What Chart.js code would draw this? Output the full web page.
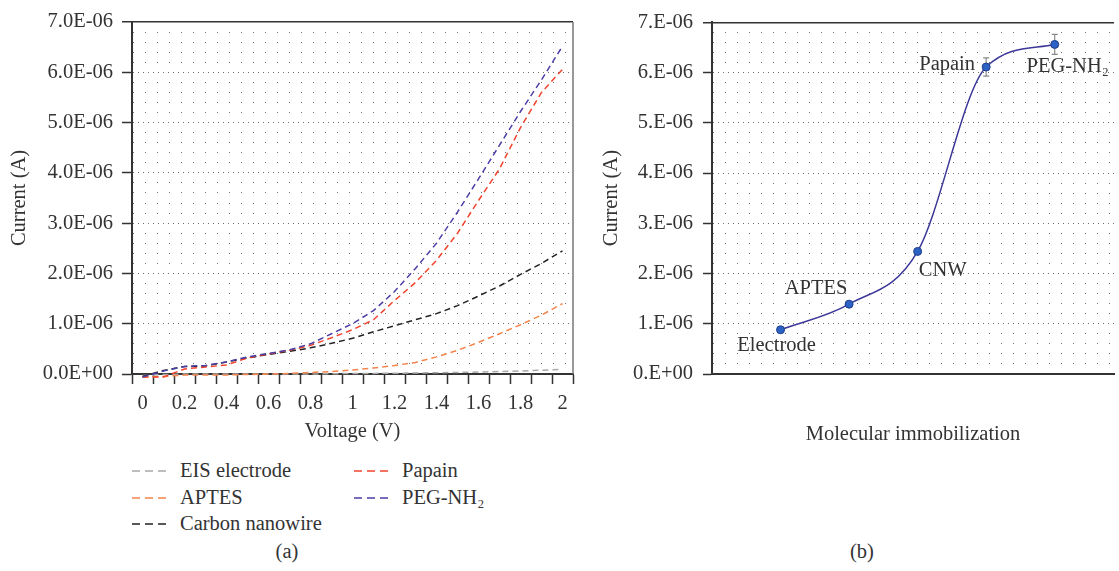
<!DOCTYPE html>
<html>
<head>
<meta charset="utf-8">
<script src="https://cdn.jsdelivr.net/npm/chart.js@4.4.1/dist/chart.umd.min.js"></script>
<style>
  html, body { margin: 0; padding: 0; background: #fff; overflow: hidden; }
  body { width: 1119px; height: 571px; position: relative; font-family: 'Liberation Serif', serif; color: #333; }
  #ivBox { position: absolute; left: 0; top: 0; width: 580px; height: 444px; }
  #immBox { position: absolute; left: 590px; top: 0; width: 529px; height: 447px; }
  .leg { position: absolute; font-size: 20.5px; line-height: 24px; white-space: nowrap; }
  .leg svg { position: absolute; left: -48px; top: 11px; }
  .caption { position: absolute; top: 539px; width: 100px; text-align: center; font-size: 20.5px; line-height: 24px; }
</style>
</head>
<body>
<div id="ivBox"><canvas id="ivChart"></canvas></div>
<div id="immBox"><canvas id="immChart"></canvas></div>
<div id="legend"></div>
<div class="caption" style="left:237px">(a)</div>
<div class="caption" style="left:812px">(b)</div>
<script>
// (a) I-V curves, current in units of 1E-06 A
const voltageLabels = ['0', '0.1', '0.2', '0.3', '0.4', '0.5', '0.6', '0.7', '0.8', '0.9', '1',
                       '1.1', '1.2', '1.3', '1.4', '1.5', '1.6', '1.7', '1.8', '1.9', '2'];
const eisCurrent    = [-0.03, -0.01, 0, 0, 0, 0, 0, 0, 0, 0.005, 0.01, 0.012, 0.015, 0.02, 0.025, 0.03, 0.04, 0.05, 0.06, 0.075, 0.09];
const aptesCurrent  = [-0.06, -0.05, -0.02, -0.02, -0.02, -0.01, 0, 0.01, 0.03, 0.05, 0.08, 0.12, 0.17, 0.23, 0.34, 0.47, 0.63, 0.80, 0.98, 1.17, 1.40];
const carbonCurrent = [-0.05, 0.07, 0.15, 0.16, 0.24, 0.32, 0.39, 0.45, 0.52, 0.61, 0.71, 0.84, 0.96, 1.08, 1.20, 1.36, 1.55, 1.75, 1.98, 2.20, 2.45];
const papainCurrent = [-0.06, -0.06, 0.10, 0.14, 0.18, 0.32, 0.40, 0.47, 0.57, 0.72, 0.88, 1.08, 1.46, 1.82, 2.26, 2.80, 3.45, 4.08, 4.90, 5.60, 6.06];
const pegCurrent    = [-0.06, 0.06, 0.15, 0.17, 0.24, 0.34, 0.41, 0.48, 0.60, 0.80, 1.00, 1.26, 1.64, 2.10, 2.60, 3.22, 3.88, 4.55, 5.22, 5.85, 6.52];

const seriesNames  = ['EIS electrode', 'APTES', 'Carbon nanowire', 'Papain', 'PEG-NH₂'];
const seriesColors = ['#a9a9a9', '#f3844a', '#222222', '#f0442c', '#4a3fa6'];

// (b) current after each immobilization step
const immCategories = ['Electrode', 'APTES', 'CNW', 'Papain', 'PEG-NH₂'];
const immCurrent    = [0.88, 1.39, 2.44, 6.11, 6.56];
const immError      = [0, 0, 0, 0.18, 0.2];

// placement of legend entries and point labels
const legendSlots  = [[180, 458], [180, 485], [180, 511], [402, 458], [402, 485]];
const labelOffsets = [[-4, 16], [-33, -16], [25, 19], [-39, -2], [13, 22]];

Chart.defaults.font.family = '"Liberation Serif", serif';
Chart.defaults.font.size = 20.5;
Chart.defaults.color = '#333';

const isMajor = v => Math.abs(v - Math.round(v)) < 1e-6;
const isTop = c => c.tick && c.tick.value > 6.99;

// shared current axis with dotted lattice grid
function currentAxis(format, tickLen, pad, titlePad, width) {
    return {
        min: 0,
        max: 7,
        ticks: {
            stepSize: 0.2,
            autoSkip: false,
            padding: pad,
            callback: v => isMajor(v) ? format(Math.round(v)) : ''
        },
        grid: {
            tickLength: tickLen,
            tickWidth: 1.5,
            tickColor: c => c.tick && isMajor(c.tick.value) ? '#333' : 'rgba(0,0,0,0)',
            color: c => isTop(c) ? '#333' : '#6e6e6e',
            lineWidth: c => isTop(c) ? 1.5 : 1
        },
        border: {
            color: '#333',
            width: 2,
            dash: c => !c.tick || isTop(c) ? [] : (isMajor(c.tick.value) ? [1, 4] : [1, 11])
        },
        title: { display: true, text: 'Current (A)', padding: { top: titlePad, bottom: 0 } },
        afterFit: s => { s.width = width; }
    };
}

// thin frame on the right side of chart (a)
const rightFrame = {
    id: 'rightFrame',
    afterDraw(chart) {
        const { ctx, chartArea } = chart;
        ctx.save();
        ctx.strokeStyle = '#777';
        ctx.lineWidth = 1.5;
        ctx.beginPath();
        ctx.moveTo(chartArea.right, chartArea.top);
        ctx.lineTo(chartArea.right, chartArea.bottom);
        ctx.stroke();
        ctx.restore();
    }
};

const ivSeries = [eisCurrent, aptesCurrent, carbonCurrent, papainCurrent, pegCurrent];

new Chart(document.getElementById('ivChart'), {
    type: 'line',
    data: {
        labels: voltageLabels,
        datasets: ivSeries.map((values, i) => ({
            label: seriesNames[i],
            data: values,
            borderColor: seriesColors[i],
            borderWidth: 1.5,
            borderDash: [6, 4],
            pointRadius: 0,
            tension: 0,
            fill: false,
            clip: 8
        })).reverse()
    },
    options: {
        responsive: true,
        maintainAspectRatio: false,
        animation: false,
        layout: { padding: { top: 22, right: 7, left: 0, bottom: 0 } },
        plugins: { legend: { display: false }, tooltip: { enabled: false } },
        scales: {
            x: {
                type: 'category',
                offset: true,
                grid: { offset: true, drawOnChartArea: false, tickLength: 10, tickWidth: 1.5, tickColor: '#333' },
                border: { color: '#333', width: 2 },
                ticks: {
                    autoSkip: false,
                    maxRotation: 0,
                    padding: 7,
                    callback: function (v, i) { return i % 2 === 0 ? this.getLabelForValue(v) : ''; }
                },
                title: { display: true, text: 'Voltage (V)', padding: 0 },
                afterFit: s => { s.height = 70; }
            },
            y: currentAxis(n => n === 0 ? '0.0E+00' : n + '.0E-06', 10, 9, 7.7, 132)
        }
    },
    plugins: [rightFrame]
});

// error bars under the points, step names over them
const immDecor = {
    id: 'immDecor',
    beforeDatasetsDraw(chart) {
        const { ctx, scales: { x, y } } = chart;
        ctx.save();
        ctx.strokeStyle = '#8a8a8a';
        ctx.lineWidth = 1.2;
        immCurrent.forEach((v, i) => {
            if (!immError[i]) return;
            const px = x.getPixelForValue(i + 1);
            const hi = y.getPixelForValue(v + immError[i]);
            const lo = y.getPixelForValue(v - immError[i]);
            ctx.beginPath();
            ctx.moveTo(px, hi); ctx.lineTo(px, lo);
            ctx.moveTo(px - 3, hi); ctx.lineTo(px + 3, hi);
            ctx.moveTo(px - 3, lo); ctx.lineTo(px + 3, lo);
            ctx.stroke();
        });
        ctx.restore();
    },
    afterDatasetsDraw(chart) {
        const { ctx, scales: { x, y } } = chart;
        ctx.save();
        ctx.font = '20.5px "Liberation Serif", serif';
        ctx.fillStyle = '#333';
        ctx.textAlign = 'center';
        ctx.textBaseline = 'middle';
        immCategories.forEach((name, i) => {
            const px = x.getPixelForValue(i + 1);
            const py = y.getPixelForValue(immCurrent[i]);
            ctx.fillText(name, px + labelOffsets[i][0], py + labelOffsets[i][1]);
        });
        ctx.restore();
    }
};

new Chart(document.getElementById('immChart'), {
    type: 'line',
    data: {
        datasets: [{
            label: 'Current',
            data: immCategories.map((c, i) => ({ x: i + 1, y: immCurrent[i] })),
            borderColor: '#3b3897',
            borderWidth: 1.5,
            cubicInterpolationMode: 'monotone',
            pointRadius: 4,
            pointBackgroundColor: '#2c62c4',
            pointBorderColor: '#1d3c8c',
            pointBorderWidth: 1
        }]
    },
    options: {
        responsive: true,
        maintainAspectRatio: false,
        animation: false,
        layout: { padding: { top: 22, right: 0, left: 0, bottom: 0 } },
        plugins: { legend: { display: false }, tooltip: { enabled: false } },
        scales: {
            x: {
                type: 'linear',
                min: 0,
                max: 5.865,
                ticks: { display: false },
                grid: { display: false },
                border: { color: '#333', width: 2 },
                title: { display: true, text: 'Molecular immobilization', padding: 0 },
                afterFit: s => { s.height = 73; }
            },
            y: currentAxis(n => n === 0 ? '0.E+00' : n + '.E-06', 9, 10, 9.7, 122)
        }
    },
    plugins: [immDecor]
});

// legend for (a), two columns
const legend = document.getElementById('legend');
seriesNames.forEach((name, i) => {
    const item = document.createElement('div');
    item.className = 'leg';
    item.style.left = legendSlots[i][0] + 'px';
    item.style.top = legendSlots[i][1] + 'px';
    item.innerHTML = '<svg width="36" height="4"><line x1="0" y1="2" x2="36" y2="2" stroke="' +
        seriesColors[i] + '" stroke-width="1.5" stroke-dasharray="8 5"/></svg>';
    item.appendChild(document.createTextNode(name));
    legend.appendChild(item);
});
</script>
</body>
</html>
